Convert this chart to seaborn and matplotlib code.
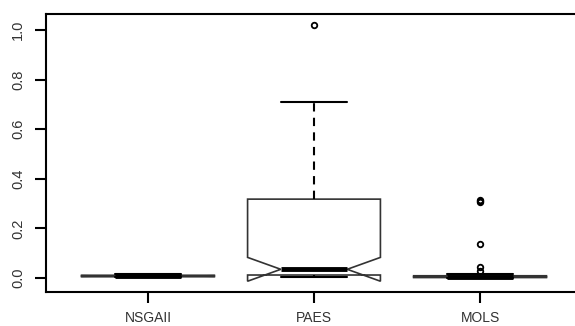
import numpy as np
import pandas as pd
import matplotlib
matplotlib.use("Agg")
import matplotlib.pyplot as plt
import seaborn as sns

# frequency tables (value, count), n = 100 per algorithm
categories = ["NSGAII", "PAES", "MOLS"]

nsgaii_values = [0.002, 0.004, 0.005, 0.007, 0.008, 0.009, 0.011, 0.012, 0.015, 0.018]
nsgaii_counts = [5, 15, 10, 15, 12, 13, 10, 10, 6, 4]

paes_values = [0.005, 0.012, 0.025, 0.035, 0.10, 0.20, 0.318, 0.45, 0.60, 0.71, 1.02]
paes_counts = [10, 16, 14, 20, 8, 6, 6, 8, 7, 4, 1]

mols_values = [0.0, 0.001, 0.002, 0.004, 0.005, 0.007, 0.009, 0.012, 0.018,
               0.03, 0.045, 0.137, 0.305, 0.31, 0.315]
mols_counts = [10, 15, 10, 15, 12, 12, 10, 6, 4, 1, 1, 1, 1, 1, 1]

y_ticks = [0.0, 0.2, 0.4, 0.6, 0.8, 1.0]
y_ticklabels = ["0.0", "0.2", "0.4", "0.6", "0.8", "1.0"]

frames = []
for name, vals, cnts in [("NSGAII", nsgaii_values, nsgaii_counts),
                         ("PAES", paes_values, paes_counts),
                         ("MOLS", mols_values, mols_counts)]:
    frames.append(pd.DataFrame({"algorithm": name,
                                "value": np.repeat(vals, cnts)}))
df = pd.concat(frames, ignore_index=True)

sns.set_style("white")
plt.rcParams["font.family"] = ["Liberation Sans", "DejaVu Sans"]

fig = plt.figure(figsize=(5.75, 3.26), dpi=100)
ax = fig.add_axes([46 / 575, (326 - 292) / 326, (583 - 46) / 575, (292 - 14) / 326])

sns.boxplot(data=df, x="algorithm", y="value", order=categories, ax=ax,
            notch=True, width=0.8, whis=1.5, color="white",
            linecolor="#333333", linewidth=1.2,
            boxprops=dict(facecolor="white", edgecolor="#333333", linewidth=1.2),
            whiskerprops=dict(color="black", linestyle=(0, (4, 3)), linewidth=1.5),
            capprops=dict(color="black", linewidth=1.5),
            medianprops=dict(color="black", linewidth=3.5, solid_capstyle="butt"),
            flierprops=dict(marker="o", markerfacecolor="none",
                            markeredgecolor="black", markersize=4,
                            markeredgewidth=1.3))

ax.set_xlim(-0.614, 2.62)
ax.set_ylim(-0.0565, 1.0645)
ax.set_yticks(y_ticks)
ax.set_yticklabels(y_ticklabels, rotation=90, va="center")
ax.set_xlabel("")
ax.set_ylabel("")

for s in ["left", "top", "bottom", "right"]:
    ax.spines[s].set_visible(True)
    ax.spines[s].set_color("black")
    ax.spines[s].set_linewidth(1.5)

ax.tick_params(axis="both", direction="out", length=8, width=1.5,
               colors="black", labelcolor="#333333",
               bottom=True, left=True, top=False, right=False)
ax.tick_params(axis="y", pad=7, labelsize=10.5)
ax.tick_params(axis="x", pad=6, labelsize=10)
ax.grid(False)

fig.savefig("out.png", dpi=100, facecolor="white")
